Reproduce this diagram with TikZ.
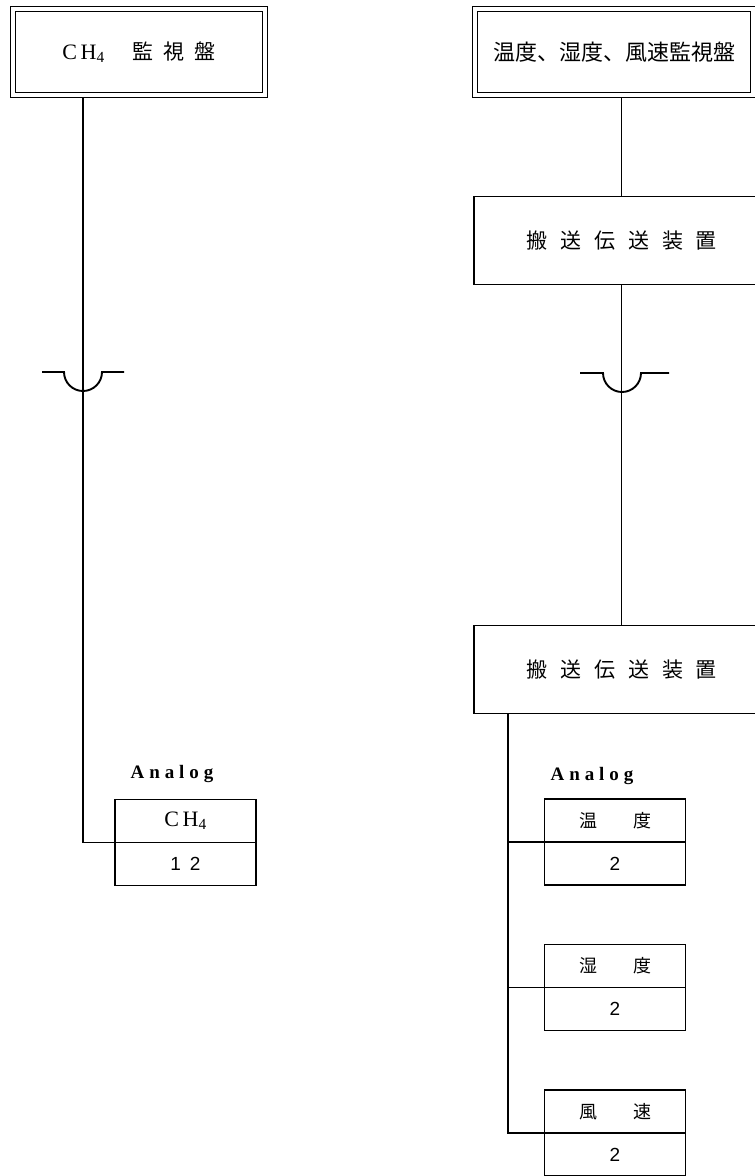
\documentclass[tikz,border=0pt]{standalone}
\usepackage{fontspec}
\usetikzlibrary{positioning}
\newfontfamily\cjk{Noto Sans CJK JP}
\newfontfamily\numfont{Liberation Sans}
\newfontfamily\latfont{Liberation Serif}
\newfontfamily\tagfont{Liberation Serif}[LetterSpace=26]
\newcommand{\jsp}[1]{\hspace{#1pt}}
\tikzset{
    panelbox/.style={
        rectangle,
        draw,
        double,
        line width=1.4pt,
        double distance=3.6pt,
        minimum height=86pt,
        inner sep=0pt,
        outer sep=3.2pt
    },
    unitbox/.style={
        rectangle,
        draw,
        line width=1.7pt,
        minimum width=295pt,
        minimum height=88pt,
        inner sep=0pt,
        outer sep=0pt,
        font=\cjk\fontsize{21}{24}\selectfont
    },
    cellbox/.style={
        rectangle,
        draw,
        line width=1.6pt,
        minimum width=141pt,
        minimum height=43pt,
        inner sep=0pt,
        outer sep=0pt
    },
    wire/.style={line width=1.9pt},
    tagtext/.style={inner sep=0pt, anchor=base, font=\tagfont\bfseries\fontsize{19}{22}\selectfont}
}

\begin{document}
\begin{tikzpicture}[x=1pt, y=-1pt]
    \useasboundingbox (0,0) rectangle (755,1176);
    \clip (0,0) rectangle (755,1176);
    % monitor panels
    \node[panelbox, minimum width=252pt] (ch4mon) at (139,52)
        {{\latfont\fontsize{22}{24}\selectfont C\,H\textsubscript{4}}\jsp{28}{\cjk\fontsize{21}{24}\selectfont 監\jsp{10}視\jsp{10}盤}};
    \node[panelbox, minimum width=278pt] (envmon) at (614,52)
        {\cjk\fontsize{22}{26}\selectfont 温度、湿度、風速監視盤};
    % carrier units
    \node[unitbox] (tx1) at (621.5,240.5) {搬\jsp{13}送\jsp{13}伝\jsp{13}送\jsp{13}装\jsp{13}置};
    \node[unitbox] (tx2) at (621.5,669.5) {搬\jsp{13}送\jsp{13}伝\jsp{13}送\jsp{13}装\jsp{13}置};
    % analog points
    \node[tagtext] (ch4tag) at (172,778) {Analog};
    \node[cellbox, font=\latfont\fontsize{22}{24}\selectfont] (ch4name) at (185.5,821) {C\,H\textsubscript{4}};
    \node[cellbox, below=0pt of ch4name, font=\numfont\fontsize{19}{20}\selectfont] (ch4val) {1\jsp{9}2};
    \node[tagtext] (envtag) at (592,780) {Analog};
    \node[cellbox, font=\cjk\fontsize{18}{20}\selectfont] (temp) at (615,820.5) {温\jsp{36}度};
    \node[cellbox, below=0pt of temp, font=\numfont\fontsize{19}{20}\selectfont] (tempval) {2};
    \node[cellbox, font=\cjk\fontsize{18}{20}\selectfont] (humid) at (615,966) {湿\jsp{36}度};
    \node[cellbox, below=0pt of humid, font=\numfont\fontsize{19}{20}\selectfont] (humidval) {2};
    \node[cellbox, font=\cjk\fontsize{18}{20}\selectfont] (wind) at (615,1111.5) {風\jsp{36}速};
    \node[cellbox, below=0pt of wind, font=\numfont\fontsize{19}{20}\selectfont] (windval) {2};
    % lines
    \coordinate (drop1) at ([xshift=73pt]ch4mon.south west);
    \coordinate (trunk) at ([xshift=34pt]tx2.south west);
    \draw[wire] (drop1) |- (ch4name.south west);
    \draw[wire] (envmon.south -| tx1.north) -- (tx1.north);
    \draw[wire] (tx1.south) -- (tx2.north);
    \draw[wire] (trunk) |- (wind.south west);
    \draw[wire] (temp.south west -| trunk) -- (temp.south west);
    \draw[wire] (humid.south west -| trunk) -- (humid.south west);
    % crossings
    \coordinate (cross1) at (83,372);
    \coordinate (cross2) at (622,373);
    \draw[wire] ([xshift=-41pt]cross1) -- ([xshift=-19pt]cross1) arc[start angle=180, end angle=360, radius=19pt] -- ([xshift=41pt]cross1);
    \draw[wire] ([xshift=-42pt]cross2) -- ([xshift=-19pt]cross2) arc[start angle=180, end angle=360, radius=19pt] -- ([xshift=47pt]cross2);
\end{tikzpicture}
\end{document}
